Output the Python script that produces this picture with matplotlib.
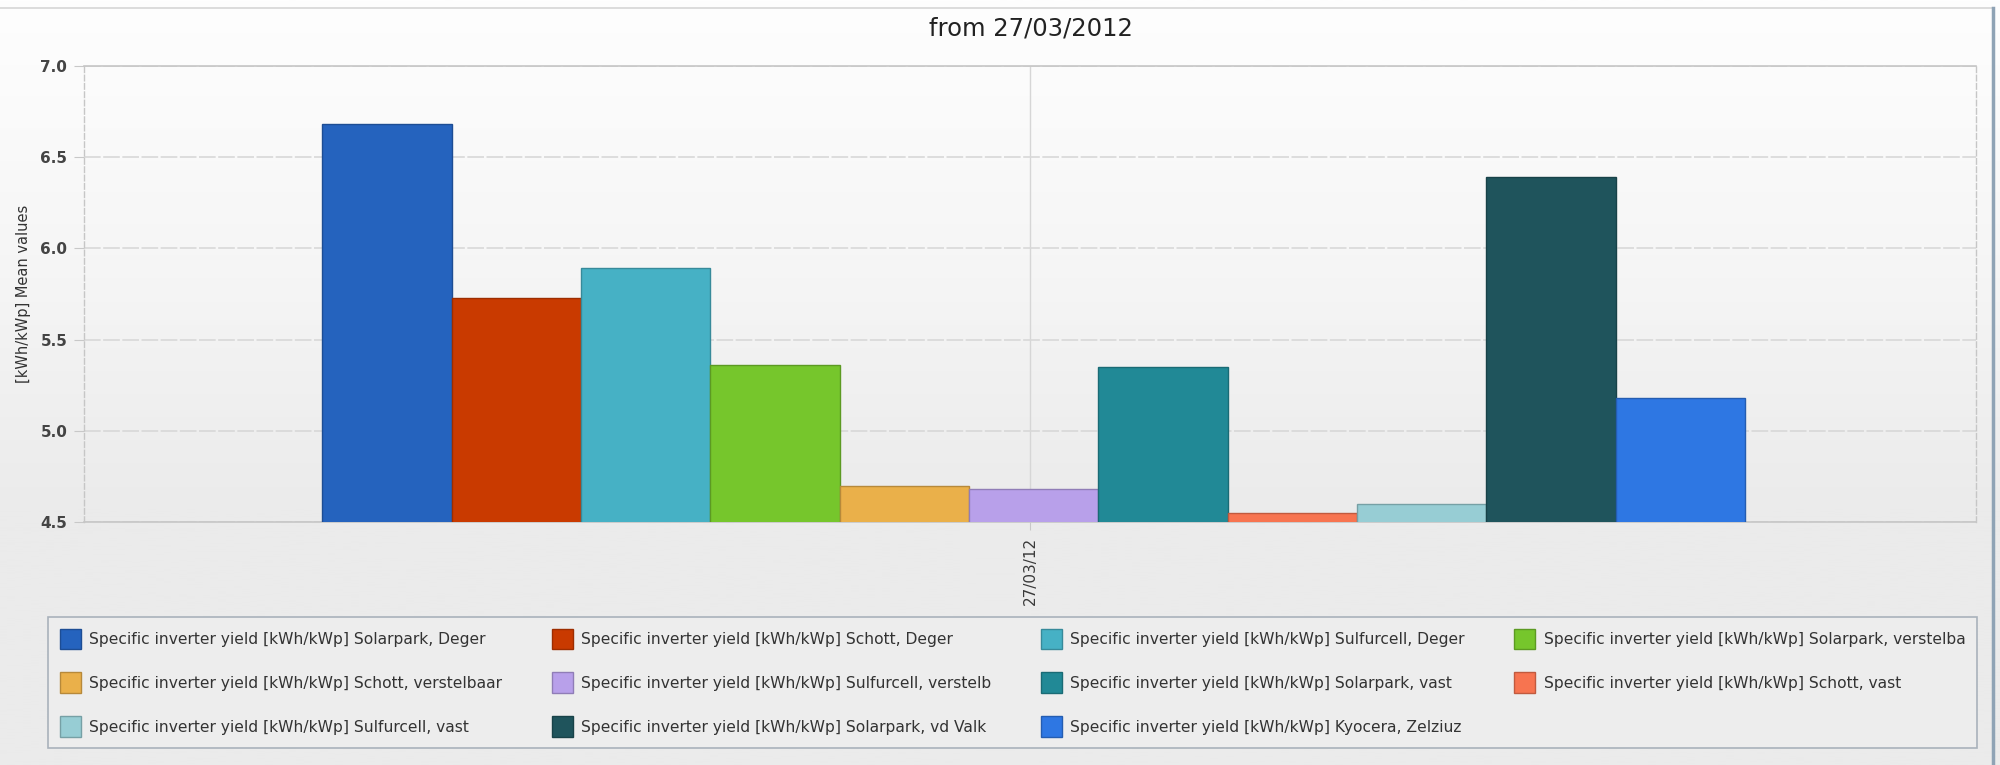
import numpy as np
import matplotlib
matplotlib.use("Agg")
from matplotlib import pyplot as plt
from matplotlib.colors import LinearSegmentedColormap, to_rgb
from matplotlib.patches import Patch
from matplotlib.lines import Line2D

# ---- data ----
TITLE = "from 27/03/2012"
CATEGORY = "27/03/12"
Y_LABEL = "[kWh/kWp] Mean values"
SERIES = [
    "Specific inverter yield [kWh/kWp] Solarpark, Deger",
    "Specific inverter yield [kWh/kWp] Schott, Deger",
    "Specific inverter yield [kWh/kWp] Sulfurcell, Deger",
    "Specific inverter yield [kWh/kWp] Solarpark, verstelba",
    "Specific inverter yield [kWh/kWp] Schott, verstelbaar",
    "Specific inverter yield [kWh/kWp] Sulfurcell, verstelb",
    "Specific inverter yield [kWh/kWp] Solarpark, vast",
    "Specific inverter yield [kWh/kWp] Schott, vast",
    "Specific inverter yield [kWh/kWp] Sulfurcell, vast",
    "Specific inverter yield [kWh/kWp] Solarpark, vd Valk",
    "Specific inverter yield [kWh/kWp] Kyocera, Zelziuz",
]
VALUES = [6.68, 5.73, 5.89, 5.36, 4.70, 4.68, 5.35, 4.55, 4.60, 6.39, 5.18]
COLORS = ["#2563be", "#c93a00", "#46b1c5", "#76c62c", "#eab04a", "#b8a0ea",
          "#218996", "#f77450", "#97cdd4", "#1f545c", "#2e77e3"]
Y_TICKS = [4.5, 5.0, 5.5, 6.0, 6.5, 7.0]


def darker(c, f=0.78):
    r, g, b = to_rgb(c)
    return (r * f, g * f, b * f)


fig = plt.figure(figsize=(20, 7.65), dpi=100)
plt.rcParams["font.family"] = "DejaVu Sans"

# background gradient (white at top -> light grey)
bg = fig.add_axes([0, 0, 1, 1], zorder=-10)
grad = np.linspace(0, 1, 256).reshape(-1, 1)
cmap = LinearSegmentedColormap.from_list("bg", ["#fefefe", "#f6f6f6", "#ebebeb", "#ebebeb"])
bg.imshow(grad, aspect="auto", cmap=cmap, extent=(0, 1, 0, 1), origin="upper")
bg.set_xlim(0, 1)
bg.set_ylim(0, 1)
bg.axis("off")

ax = fig.add_axes([0.042, 0.3176, 0.946, 0.5961])
ax.set_facecolor("none")

n = len(VALUES)
group = 0.752
w = group / n
x = (np.arange(n) - (n - 1) / 2) * w + 0.002
ax.bar(x, VALUES, width=w, color=COLORS,
       edgecolor=[darker(c) for c in COLORS], linewidth=1.0, zorder=3)

ax.set_xlim(-0.5, 0.5)
ax.set_ylim(4.5, 7.0)
ax.set_yticks(Y_TICKS)
ax.set_yticklabels(["{:.1f}".format(v) for v in Y_TICKS])
ax.set_xticks([0])
ax.set_xticklabels([CATEGORY], rotation=90)

ax.yaxis.grid(True, color="#d8d8d8", linestyle=(0, (10, 1.5)), linewidth=1.2, zorder=0)
ax.xaxis.grid(True, color="#d6d6d6", linestyle="-", linewidth=1.0, zorder=0)
ax.set_axisbelow(True)

for side in ["top", "bottom"]:
    ax.spines[side].set_color("#c6c6c6")
    ax.spines[side].set_linewidth(1.2)
for side in ["left", "right"]:
    ax.spines[side].set_color("#c6c6c6")
    ax.spines[side].set_linestyle((0, (4, 2)))
    ax.spines[side].set_linewidth(1.0)

ax.tick_params(axis="y", length=7, color="#c8c8c8", pad=5, labelsize=11, labelcolor="#444444")
ax.tick_params(axis="x", length=6, color="#c8c8c8", pad=5, labelsize=11, labelcolor="#3a3a3a")
for lbl in ax.get_yticklabels():
    lbl.set_fontweight("bold")
ax.set_ylabel(Y_LABEL, fontsize=10.5, color="#333333", labelpad=7)

fig.text(0.5155, 0.963, TITLE, ha="center", va="center", fontsize=17.5, color="#222222")

# legend filled row by row, 4 columns
handles = [Patch(facecolor=c, edgecolor=darker(c)) for c in COLORS]
order = [0, 4, 8, 1, 5, 9, 2, 6, 10, 3, 7]
leg = ax.legend([handles[i] for i in order], [SERIES[i] for i in order],
                ncol=4, loc="upper left", mode="expand", borderaxespad=0.0,
                bbox_to_anchor=(0.024, 0.0196, 0.9645, 0.1739),
                bbox_transform=fig.transFigure,
                fontsize=11.2, handlelength=1.35, handleheight=1.65,
                handletextpad=0.55, labelspacing=1.5, borderpad=0.75,
                fancybox=False, framealpha=1.0, facecolor="#ededed",
                edgecolor="#a9b2bb")
leg.get_frame().set_linewidth(1.2)
for t in leg.get_texts():
    t.set_color("#333333")

# panel border
fig.add_artist(Line2D([0.0, 0.9965], [0.9895, 0.9895], color="#d6d6d6", linewidth=1.2))
fig.add_artist(Line2D([0.9965, 0.9965], [0.0, 0.9895], color="#8fa3b5", linewidth=2.5))

plt.savefig("out.png", dpi=100, facecolor="#ebebeb")
